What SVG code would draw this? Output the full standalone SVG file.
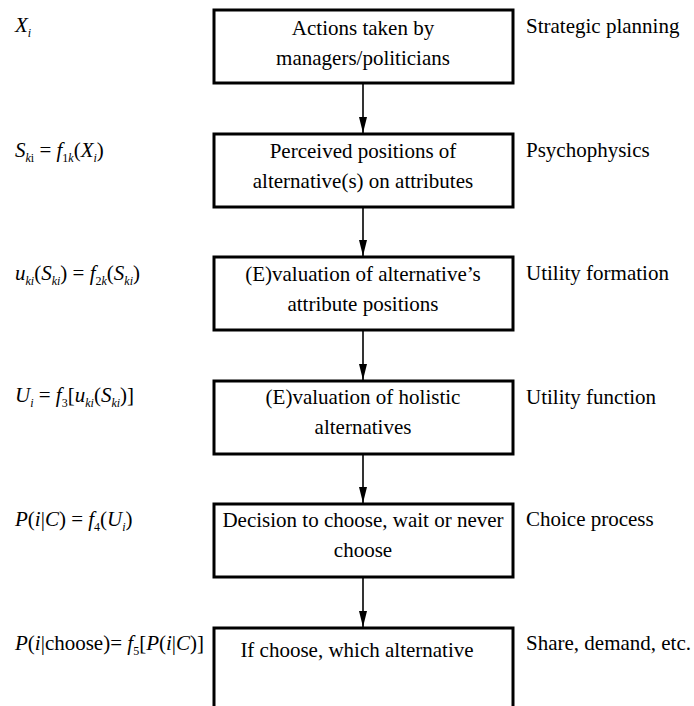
<svg xmlns="http://www.w3.org/2000/svg" width="694" height="706" viewBox="0 0 694 706" font-family="Liberation Serif, DejaVu Serif, Noto Serif, Times New Roman, serif">
<style>
.box{fill:#fff;stroke:#000;stroke-width:3}
.t{font-size:21px;fill:#000}
.c{text-anchor:middle}
.f{font-size:21px;fill:#000}
.it{font-style:italic}
.s{font-size:12px}
.conn{stroke:#000;stroke-width:1.6;fill:none}
</style>
<defs>
<marker id="arr" viewBox="0 0 16 8" refX="16" refY="4" markerWidth="16" markerHeight="8" markerUnits="userSpaceOnUse" orient="auto">
<path d="M0,0 L16,4 L0,8 Z" fill="#000"/>
</marker>
</defs>
<rect width="694" height="706" fill="#fff"/>
<g id="connectors">
<line class="conn" x1="363" y1="84" x2="363" y2="133" marker-end="url(#arr)"/>
<line class="conn" x1="363" y1="208" x2="363" y2="256" marker-end="url(#arr)"/>
<line class="conn" x1="363" y1="331" x2="363" y2="380" marker-end="url(#arr)"/>
<line class="conn" x1="363" y1="455" x2="363" y2="503" marker-end="url(#arr)"/>
<line class="conn" x1="363" y1="578" x2="363" y2="627" marker-end="url(#arr)"/>
</g>
<g id="node1">
<rect class="box" x="214" y="10" width="299" height="73"/>
<text class="t c" x="363" y="35">Actions taken by</text>
<text class="t c" x="363" y="65">managers/politicians</text>
</g>
<g id="node2">
<rect class="box" x="214" y="134" width="299" height="73"/>
<text class="t c" x="363" y="158">Perceived positions of</text>
<text class="t c" x="363" y="188">alternative(s) on attributes</text>
</g>
<g id="node3">
<rect class="box" x="214" y="257" width="299" height="73"/>
<text class="t c" x="363" y="281">(E)valuation of alternative’s</text>
<text class="t c" x="363" y="311">attribute positions</text>
</g>
<g id="node4">
<rect class="box" x="214" y="381" width="299" height="73"/>
<text class="t c" x="363" y="404">(E)valuation of holistic</text>
<text class="t c" x="363" y="434">alternatives</text>
</g>
<g id="node5">
<rect class="box" x="214" y="504" width="299" height="73"/>
<text class="t c" x="363" y="527">Decision to choose, wait or never</text>
<text class="t c" x="363" y="557">choose</text>
</g>
<g id="node6">
<rect class="box" x="214" y="628" width="299" height="100"/>
<text class="t c" x="357" y="657">If choose, which alternative</text>
</g>
<g id="labels">
<text class="t" x="526" y="33">Strategic planning</text>
<text class="t" x="526" y="157">Psychophysics</text>
<text class="t" x="526" y="280">Utility formation</text>
<text class="t" x="526" y="404">Utility function</text>
<text class="t" x="526" y="526">Choice process</text>
<text class="t" x="526" y="650">Share, demand, etc.</text>
</g>
<g id="formulas">
<text class="f" x="15" y="32"><tspan class="it">X</tspan><tspan class="it s" dy="5">i</tspan></text>
<text class="f" x="15" y="157"><tspan class="it">S</tspan><tspan class="it s" dy="5">k</tspan><tspan class="s">i</tspan><tspan dy="-5"> = </tspan><tspan class="it">f</tspan><tspan class="s" dy="5">1</tspan><tspan class="it s">k</tspan><tspan dy="-5">(</tspan><tspan class="it">X</tspan><tspan class="it s" dy="5">i</tspan><tspan dy="-5">)</tspan></text>
<text class="f" x="15" y="280"><tspan class="it">u</tspan><tspan class="it s" dy="5">ki</tspan><tspan dy="-5">(</tspan><tspan class="it">S</tspan><tspan class="it s" dy="5">ki</tspan><tspan dy="-5">) = </tspan><tspan class="it">f</tspan><tspan class="s" dy="5">2</tspan><tspan class="it s">k</tspan><tspan dy="-5">(</tspan><tspan class="it">S</tspan><tspan class="it s" dy="5">ki</tspan><tspan dy="-5">)</tspan></text>
<text class="f" x="15" y="402"><tspan class="it">U</tspan><tspan class="it s" dy="5">i</tspan><tspan dy="-5"> = </tspan><tspan class="it">f</tspan><tspan class="s" dy="5">3</tspan><tspan dy="-5">[</tspan><tspan class="it">u</tspan><tspan class="it s" dy="5">ki</tspan><tspan dy="-5">(</tspan><tspan class="it">S</tspan><tspan class="it s" dy="5">ki</tspan><tspan dy="-5">)]</tspan></text>
<text class="f" x="15" y="526"><tspan class="it">P</tspan>(<tspan class="it">i</tspan>|<tspan class="it">C</tspan>) = <tspan class="it">f</tspan><tspan class="s" dy="5">4</tspan><tspan dy="-5">(</tspan><tspan class="it">U</tspan><tspan class="it s" dy="5">i</tspan><tspan dy="-5">)</tspan></text>
<text class="f" x="15" y="650"><tspan class="it">P</tspan>(<tspan class="it">i</tspan>|choose)= <tspan class="it">f</tspan><tspan class="s" dy="5">5</tspan><tspan dy="-5">[</tspan><tspan class="it">P</tspan>(<tspan class="it">i</tspan>|<tspan class="it">C</tspan>)]</text>
</g>
</svg>
